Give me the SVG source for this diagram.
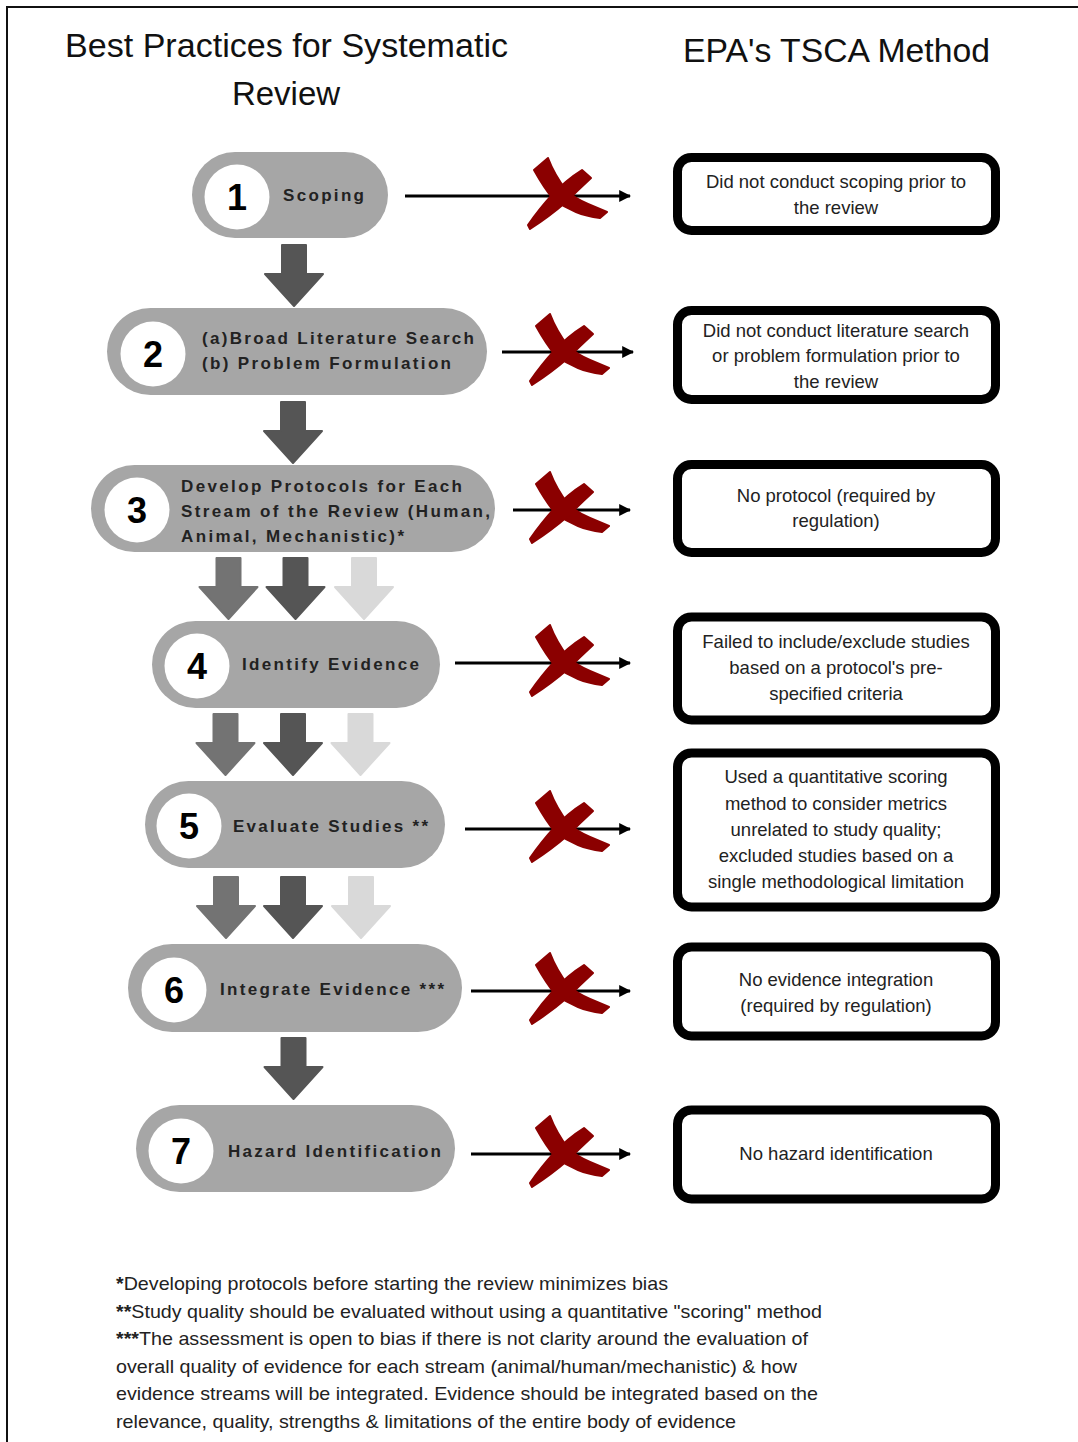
<svg xmlns="http://www.w3.org/2000/svg" width="1078" height="1442" viewBox="0 0 1078 1442">
<defs>
<style>
.title{font-family:"Liberation Sans",Arial,sans-serif;font-size:33px;fill:#111}
.pill{fill:#a6a6a6}
.num{font-family:"Liberation Sans",Arial,sans-serif;font-size:36px;font-weight:bold;fill:#000;text-anchor:middle}
.lbl{font-family:"Liberation Sans",Arial,sans-serif;font-size:17px;font-weight:bold;fill:#222}
.box{fill:#fff;stroke:#000;stroke-width:9}
.bt{font-family:"Liberation Sans",Arial,sans-serif;font-size:18.5px;fill:#222;text-anchor:middle}
.fn{font-family:"Liberation Sans Narrow","Liberation Sans",Arial,sans-serif;font-size:19px;fill:#222}
.conn{stroke:#000;stroke-width:3;fill:none}
.xm{fill:#8b0000;stroke:#8b0000;stroke-width:2;stroke-linejoin:round}
</style>
<marker id="ah" viewBox="0 0 10 10" refX="9" refY="5" markerWidth="4" markerHeight="4" orient="auto" markerUnits="strokeWidth">
<path d="M0,0 L10,5 L0,10 Z" fill="#000"/>
</marker>
<path id="down" d="M-12,0 H12 V29 H29 L0,61 L-29,29 H-12 Z" stroke-linejoin="round" stroke-width="2"/>
<g id="xmark">
<path d="M-26,-26 L-12,-38 Q-6,-22 6,-6 Q14,2 28,8 L47,16 L40,22 Q26,20 16,16 Q4,11 -6,4 Q-16,-8 -26,-26 Z"/>
<path d="M22,-26 L31,-18 Q18,-6 6,6 Q-10,20 -30,33 L-32,29 Q-20,12 -8,-1 Q6,-16 22,-26 Z"/>
</g>
</defs>
<rect width="1078" height="1442" fill="#fff"/>
<g id="frame" stroke="#111" stroke-width="2" fill="none">
<path d="M7,1442 V7 H1078"/>
</g>
<g id="titles">
<text class="title" x="65" y="57" textLength="443" lengthAdjust="spacingAndGlyphs">Best Practices for Systematic</text>
<text class="title" x="286" y="105" text-anchor="middle">Review</text>
<text class="title" x="683" y="62" textLength="307" lengthAdjust="spacingAndGlyphs">EPA's TSCA Method</text>
</g>
<g id="arrows-down">
<use href="#down" x="294" y="245" fill="#555" stroke="#555"/>
<use href="#down" x="293" y="402" fill="#555" stroke="#555"/>
<use href="#down" x="228.5" y="558" fill="#737373" stroke="#737373"/>
<use href="#down" x="295.5" y="558" fill="#555" stroke="#555"/>
<use href="#down" x="364" y="558" fill="#d9d9d9" stroke="#d9d9d9"/>
<use href="#down" x="225.5" y="714" fill="#737373" stroke="#737373"/>
<use href="#down" x="293" y="714" fill="#555" stroke="#555"/>
<use href="#down" x="360.5" y="714" fill="#d9d9d9" stroke="#d9d9d9"/>
<use href="#down" x="226" y="877" fill="#737373" stroke="#737373"/>
<use href="#down" x="293" y="877" fill="#555" stroke="#555"/>
<use href="#down" x="361" y="877" fill="#d9d9d9" stroke="#d9d9d9"/>
<use href="#down" x="293.5" y="1038" fill="#555" stroke="#555"/>
</g>
<g id="step1">
<rect class="pill" x="192" y="152" width="196" height="86" rx="43"/>
<circle cx="237" cy="197" r="32.5" fill="#fff"/>
<text class="num" x="237" y="210">1</text>
<text class="lbl" x="283" y="201" textLength="81" lengthAdjust="spacing">Scoping</text>
</g>
<g id="step2">
<rect class="pill" x="107" y="308" width="380" height="87" rx="43.5"/>
<circle cx="153" cy="354" r="32.5" fill="#fff"/>
<text class="num" x="153" y="367">2</text>
<text class="lbl" x="202" y="344" textLength="272" lengthAdjust="spacing">(a)Broad Literature Search</text>
<text class="lbl" x="202" y="369" textLength="249" lengthAdjust="spacing">(b) Problem Formulation</text>
</g>
<g id="step3">
<rect class="pill" x="91" y="465" width="404" height="87" rx="43.5"/>
<circle cx="137" cy="510" r="32.5" fill="#fff"/>
<text class="num" x="137" y="523">3</text>
<text class="lbl" x="181" y="492" textLength="281" lengthAdjust="spacing">Develop Protocols for Each</text>
<text class="lbl" x="181" y="517" textLength="309" lengthAdjust="spacing">Stream of the Review (Human,</text>
<text class="lbl" x="181" y="542" textLength="223" lengthAdjust="spacing">Animal, Mechanistic)*</text>
</g>
<g id="step4">
<rect class="pill" x="152" y="621" width="288" height="87" rx="43.5"/>
<circle cx="197" cy="666" r="32.5" fill="#fff"/>
<text class="num" x="197" y="679">4</text>
<text class="lbl" x="242" y="670" textLength="177" lengthAdjust="spacing">Identify Evidence</text>
</g>
<g id="step5">
<rect class="pill" x="145" y="781" width="300" height="87" rx="43.5"/>
<circle cx="189" cy="826" r="32.5" fill="#fff"/>
<text class="num" x="189" y="839">5</text>
<text class="lbl" x="233" y="832" textLength="195" lengthAdjust="spacing">Evaluate Studies **</text>
</g>
<g id="step6">
<rect class="pill" x="128" y="944" width="334" height="88" rx="44"/>
<circle cx="174" cy="990" r="32.5" fill="#fff"/>
<text class="num" x="174" y="1003">6</text>
<text class="lbl" x="220" y="995" textLength="224" lengthAdjust="spacing">Integrate Evidence ***</text>
</g>
<g id="step7">
<rect class="pill" x="136" y="1105" width="319" height="87" rx="43.5"/>
<circle cx="181" cy="1151" r="32.5" fill="#fff"/>
<text class="num" x="181" y="1164">7</text>
<text class="lbl" x="228" y="1157" textLength="213" lengthAdjust="spacing">Hazard Identification</text>
</g>
<g id="connectors">
<line class="conn" x1="405" y1="196" x2="630" y2="196" marker-end="url(#ah)"/>
<line class="conn" x1="502" y1="352" x2="633" y2="352" marker-end="url(#ah)"/>
<line class="conn" x1="513" y1="510" x2="630" y2="510" marker-end="url(#ah)"/>
<line class="conn" x1="455" y1="663" x2="630" y2="663" marker-end="url(#ah)"/>
<line class="conn" x1="465" y1="829" x2="630" y2="829" marker-end="url(#ah)"/>
<line class="conn" x1="471" y1="991" x2="630" y2="991" marker-end="url(#ah)"/>
<line class="conn" x1="471" y1="1154" x2="630" y2="1154" marker-end="url(#ah)"/>
</g>
<g id="xmarks" class="xm">
<use href="#xmark" transform="translate(560,196)"/>
<use href="#xmark" transform="translate(562,352)"/>
<use href="#xmark" transform="translate(562,510)"/>
<use href="#xmark" transform="translate(562,663)"/>
<use href="#xmark" transform="translate(562,829)"/>
<use href="#xmark" transform="translate(562,991)"/>
<use href="#xmark" transform="translate(562,1154)"/>
</g>
<g id="box1">
<rect class="box" x="677.5" y="157.5" width="318" height="73" rx="14"/>
<text class="bt" x="836" y="188">Did not conduct scoping prior to</text>
<text class="bt" x="836" y="214">the review</text>
</g>
<g id="box2">
<rect class="box" x="677.5" y="310.5" width="318" height="89" rx="14"/>
<text class="bt" x="836" y="337">Did not conduct literature search</text>
<text class="bt" x="836" y="362">or problem formulation prior to</text>
<text class="bt" x="836" y="388">the review</text>
</g>
<g id="box3">
<rect class="box" x="677.5" y="464.5" width="318" height="88" rx="14"/>
<text class="bt" x="836" y="502">No protocol (required by</text>
<text class="bt" x="836" y="527">regulation)</text>
</g>
<g id="box4">
<rect class="box" x="677.5" y="617" width="318" height="103" rx="14"/>
<text class="bt" x="836" y="648">Failed to include/exclude studies</text>
<text class="bt" x="836" y="674">based on a protocol's pre-</text>
<text class="bt" x="836" y="700">specified criteria</text>
</g>
<g id="box5">
<rect class="box" x="677.5" y="753" width="318" height="154" rx="14"/>
<text class="bt" x="836" y="783">Used a quantitative scoring</text>
<text class="bt" x="836" y="810">method to consider metrics</text>
<text class="bt" x="836" y="836">unrelated to study quality;</text>
<text class="bt" x="836" y="862">excluded studies based on a</text>
<text class="bt" x="836" y="888">single methodological limitation</text>
</g>
<g id="box6">
<rect class="box" x="677.5" y="947" width="318" height="89" rx="14"/>
<text class="bt" x="836" y="986">No evidence integration</text>
<text class="bt" x="836" y="1012">(required by regulation)</text>
</g>
<g id="box7">
<rect class="box" x="677.5" y="1110" width="318" height="89" rx="14"/>
<text class="bt" x="836" y="1160">No hazard identification</text>
</g>
<g id="footnotes">
<text class="fn" x="116" y="1290" textLength="552" lengthAdjust="spacingAndGlyphs"><tspan font-weight="bold">*</tspan>Developing protocols before starting the review minimizes bias</text>
<text class="fn" x="116" y="1318" textLength="706" lengthAdjust="spacingAndGlyphs"><tspan font-weight="bold">**</tspan>Study quality should be evaluated without using a quantitative "scoring" method</text>
<text class="fn" x="116" y="1345" textLength="692" lengthAdjust="spacingAndGlyphs"><tspan font-weight="bold">***</tspan>The assessment is open to bias if there is not clarity around the evaluation of</text>
<text class="fn" x="116" y="1373" textLength="681" lengthAdjust="spacingAndGlyphs">overall quality of evidence for each stream (animal/human/mechanistic) &amp; how</text>
<text class="fn" x="116" y="1400" textLength="702" lengthAdjust="spacingAndGlyphs">evidence streams will be integrated. Evidence should be integrated based on the</text>
<text class="fn" x="116" y="1428" textLength="620" lengthAdjust="spacingAndGlyphs">relevance, quality, strengths &amp; limitations of the entire body of evidence</text>
</g>
</svg>
